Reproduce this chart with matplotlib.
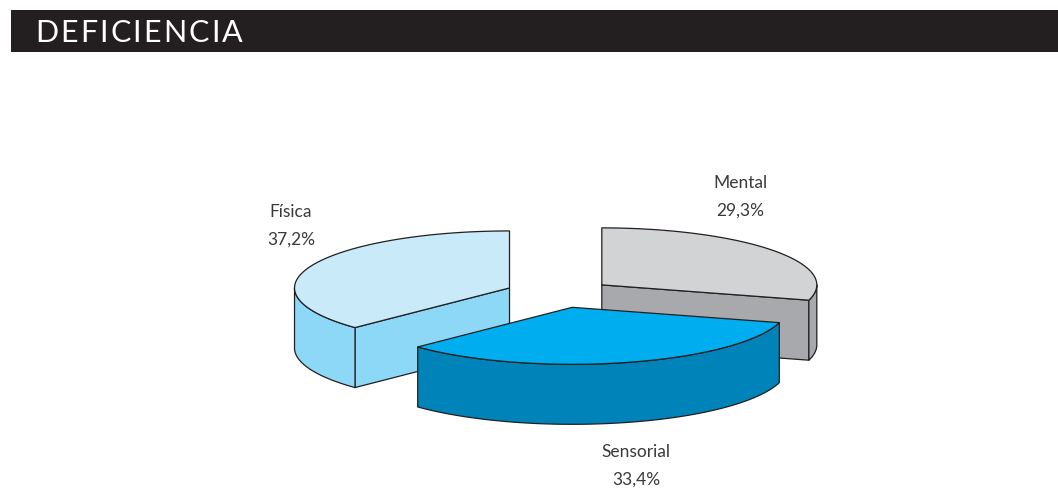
import numpy as np
import matplotlib.pyplot as plt
from matplotlib.patches import Polygon, Rectangle

# data
labels = ["Mental", "Sensorial", "Física"]
values = [29.3, 33.4, 37.2]
pct_text = ["29,3%", "33,4%", "37,2%"]
top_colors = ["#d1d3d4", "#00adee", "#c8eaf9"]
side_colors = ["#a7a9ac", "#0083b9", "#8ed8f7"]
title = "DEFICIENCIA"

# layout of the fake 3d pie (pixel units)
cx, cy = 559, 294.5
rx, ry = 215, 57
depth = 60
explode = 0.25
label_pos = [(740, 197), (636, 466), (291, 226)]
edge = "#231f20"

fig = plt.figure(figsize=(10.58, 4.89), dpi=100)
ax = fig.add_axes([0, 0, 1, 1])
ax.set_xlim(0, 1058)
ax.set_ylim(489, 0)
ax.axis("off")

# title bar, letters spaced out by hand
ax.add_patch(Rectangle((11, 11), 1047, 42, color="#231f20", lw=0))
renderer = fig.canvas.get_renderer()
x = 35
for ch in title:
    t = ax.text(x, 33.5, ch, color="white", fontsize=22, family="Lato",
                va="center", ha="left")
    w = t.get_window_extent(renderer).width
    x += w + 2.2

def arc(x0, y0, a1, a2, n=80):
    t = np.linspace(a1, a2, n)
    return np.column_stack([x0 + rx * np.cos(t), y0 - ry * np.sin(t)])


def down(p):
    return p + np.array([0, depth])


vals = np.array(values)
angles = 2 * np.pi * vals / vals.sum()
starts = np.pi / 2 - np.concatenate([[0], np.cumsum(angles)[:-1]])
ends = starts - angles

faces = []
for i in range(len(values)):
    a1, a2 = starts[i], ends[i]
    mid = (a1 + a2) / 2
    x0 = cx + explode * rx * np.cos(mid)
    y0 = cy - explode * ry * np.sin(mid)
    apex = np.array([[x0, y0]])
    polys = []
    # radial walls facing the viewer
    if np.cos(a1) < -1e-6:
        p = arc(x0, y0, a1, a1, 1)
        polys.append((np.vstack([apex, p, down(p), down(apex)]), side_colors[i]))
    if np.cos(a2) > 1e-6:
        p = arc(x0, y0, a2, a2, 1)
        polys.append((np.vstack([apex, p, down(p), down(apex)]), side_colors[i]))
    # outer curved wall, front half only
    if a2 < 0:
        hi = min(a1, 0)
        lo = max(a2, -np.pi)
        if hi > lo:
            p = arc(x0, y0, hi, lo)
            polys.append((np.vstack([p, down(p)[::-1]]), side_colors[i]))
    # top face
    polys.append((np.vstack([apex, arc(x0, y0, a1, a2)]), top_colors[i]))
    faces.append((y0, polys))

    lx, ly = label_pos[i]
    ax.text(lx, ly - 14, labels[i], ha="center", va="center", fontsize=12.5,
            family="Lato", color="#3a3a3a")
    ax.text(lx, ly + 14, pct_text[i], ha="center", va="center", fontsize=12.5,
            family="Lato", color="#3a3a3a")

for _, polys in sorted(faces, key=lambda f: f[0]):
    for pts, col in polys:
        ax.add_patch(Polygon(pts, closed=True, facecolor=col, edgecolor=edge,
                             lw=0.9, joinstyle="round"))

fig.savefig("out.png", dpi=100)
